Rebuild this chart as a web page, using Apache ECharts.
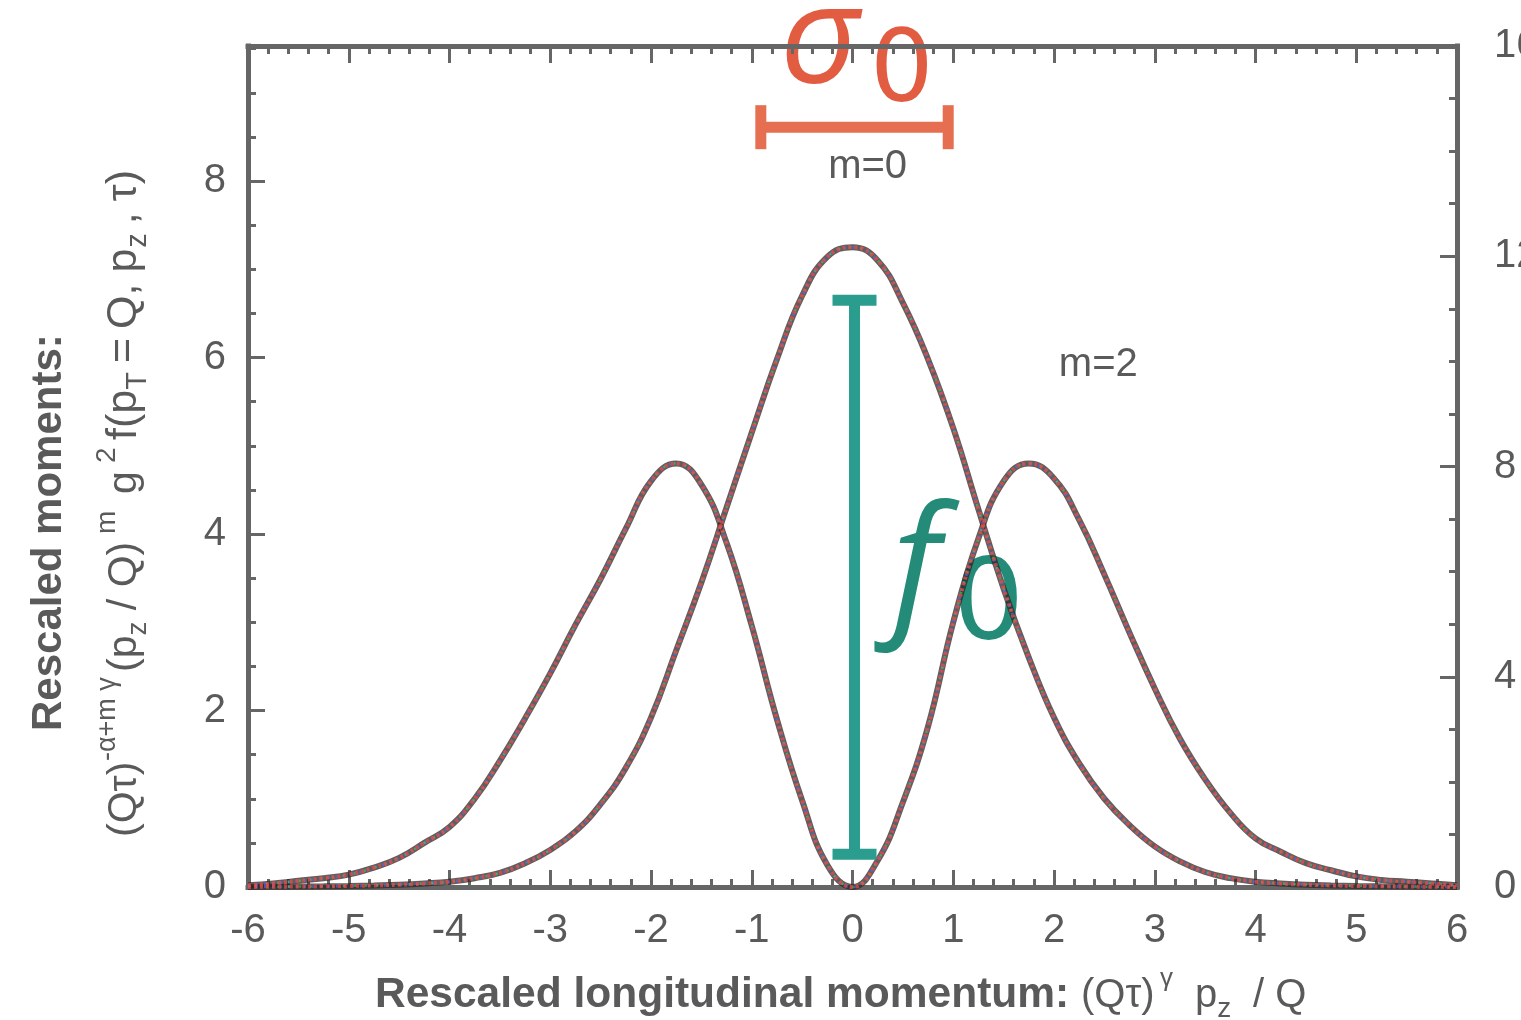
<!DOCTYPE html>
<html><head><meta charset="utf-8">
<script src="https://cdn.jsdelivr.net/npm/echarts@6/dist/echarts.min.js"></script>
<style>html,body{margin:0;padding:0;background:#fff}#c{width:1521px;height:1020px}</style>
</head><body><div id="c"></div>
<script>
// ---- data ----
const xValues = [-6,-5.75,-5.5,-5.25,-5,-4.75,-4.5,-4.25,-4,-3.75,-3.5,-3.25,-3,-2.75,-2.5,-2.25,-2,-1.75,-1.5,-1.25,-1,-0.75,-0.5,-0.25,0,0.25,0.5,0.75,1,1.25,1.5,1.75,2,2.25,2.5,2.75,3,3.25,3.5,3.75,4,4.25,4.5,4.75,5,5.25,5.5,5.75,6];
const m0Values = [0,0.003,0.005,0.008,0.012,0.018,0.026,0.04,0.06,0.1,0.16,0.27,0.42,0.63,0.94,1.35,1.92,2.68,3.45,4.3,5.15,5.98,6.7,7.14,7.25,7.1,6.62,5.98,5.2,4.28,3.38,2.6,1.92,1.4,1.0,0.7,0.46,0.29,0.17,0.1,0.06,0.04,0.026,0.018,0.012,0.008,0.005,0.003,0];
const m2Values = [0.02,0.04,0.07,0.1,0.14,0.22,0.33,0.5,0.68,1.0,1.43,1.91,2.42,2.97,3.49,4.06,4.6,4.8,4.56,3.9,2.96,1.9,0.98,0.25,0,0.3,0.96,1.82,3.0,3.95,4.6,4.8,4.63,4.16,3.54,2.88,2.25,1.68,1.22,0.84,0.55,0.4,0.27,0.19,0.12,0.08,0.06,0.04,0.02];
const leftAxisRange = [0, 9.53];
const rightAxisRange = [0, 16];
const xAxisRange = [-6, 6];
const sigmaBar = {from: -0.91, to: 0.95, y: 8.61};
const fBar = {x: 0.02, from: 0.37, to: 6.65};
const curveLabels = [['m=0', 0.15, 8.16], ['m=2', 2.44, 5.92]];

const FONT = '"Liberation Sans", Arial, Helvetica, sans-serif';
const GRAY = '#5a5a5a';
const AXIS = '#666';

const chart = echarts.init(document.getElementById('c'), null, {renderer: 'canvas'});

// lays out text runs (normal / superscript / subscript) along one baseline
const mctx = document.createElement('canvas').getContext('2d');
function runsGroup(runs, x0, y0, rotation, color, defFamily) {
  let x = 0; const children = [];
  runs.forEach(r => {
    const fam = r.fam || defFamily;
    const f = `${r.it || 'normal'} ${r.w || 'normal'} ${r.s}px ${fam.css}`;
    mctx.font = f;
    const w = mctx.measureText(r.t).width;
    if (r.at !== undefined) x = r.at;
    children.push({
      type: 'text', x: x, y: (r.dy || 0) - fam.k * r.s,
      style: {text: r.t, font: f, fill: r.color || color, textAlign: 'left', textVerticalAlign: 'middle', align: 'left', verticalAlign: 'middle'}
    });
    x += w + (r.gap || 0);
  });
  return {type: 'group', x: x0, y: y0, rotation: rotation, silent: true, children};
}
const LIB = {css: FONT, k: 0.31};
const OPEN = {css: '"Open Sans", "Noto Sans", sans-serif', k: 0.28};
const DEJA = {css: '"DejaVu Sans", sans-serif', k: 0.30};

const xTitle = runsGroup([
  {t: 'Rescaled longitudinal momentum:', w: 'bold', s: 42.5, at: 0},
  {t: '(Qτ)', s: 40, at: 706},
  {t: 'γ', s: 26, dy: -21, at: 785},
  {t: 'p', s: 40, at: 820},
  {t: 'z', s: 28, dy: 10},
  {t: '/ Q', s: 40, at: 878}
], 375, 1008, 0, GRAY, LIB);

const yTitle1 = runsGroup([
  {t: 'Rescaled moments:', w: 'bold', s: 42, at: 0}
], 62, 731, Math.PI / 2, GRAY, LIB);

const yTitle2 = runsGroup([
  {t: '(Qτ)', s: 41, at: 0},
  {t: '-α+m γ', s: 27, dy: -21, at: 76},
  {t: '(p', s: 41, at: 165},
  {t: 'z', s: 28, dy: 10},
  {t: ' / Q)', s: 41},
  {t: 'm', s: 28, dy: -21, at: 303},
  {t: 'g', s: 41, at: 343},
  {t: '2', s: 28, dy: -21, at: 374},
  {t: 'f(p', s: 43, at: 397},
  {t: 'T', s: 29, dy: 10, gap: 9},
  {t: '=', s: 43, gap: 9},
  {t: 'Q,', s: 43, gap: 11},
  {t: 'p', s: 43, gap: 1},
  {t: 'z', s: 29, dy: 10, gap: 9},
  {t: ',', s: 43, gap: 11},
  {t: 'τ)', s: 43}
], 137, 837, Math.PI / 2, GRAY, LIB);

const sigmaText = runsGroup([
  {t: 'σ', it: 'italic', s: 138, at: 0, fam: OPEN},
  {t: '0', s: 100, at: 90, dy: 23, fam: DEJA}
], 780, 82, 0, '#e25c42', OPEN);

const fText = runsGroup([
  {t: 'f', it: 'italic', s: 154, at: 20, fam: OPEN},
  {t: '0', s: 112, at: 81, dy: 28, fam: DEJA}
], 872, 615, 0, '#238b78', OPEN);

const m0Data = xValues.map((x, i) => [x, m0Values[i]]);
const m2Data = xValues.map((x, i) => [x, m2Values[i]]);

function curveSeries(data) {
  const base = {type: 'line', data, showSymbol: false, smooth: 0.45, silent: true};
  return [
    Object.assign({z: 3, lineStyle: {color: 'rgba(40,40,40,0.75)', width: 6}}, base),
    Object.assign({z: 4, lineStyle: {color: 'rgba(80,110,240,0.65)', width: 3, type: [2, 6]}}, base),
    Object.assign({z: 4, lineStyle: {color: 'rgba(70,220,90,0.55)', width: 2.5, type: [2, 9], dashOffset: 4}}, base),
    Object.assign({z: 5, lineStyle: {color: 'rgba(235,75,75,0.75)', width: 4, type: [3, 3]}}, base)
  ];
}

const tickCommon = {inside: true, length: 17, lineStyle: {color: AXIS, width: 3}};
const minorCommon = {show: true, length: 8, lineStyle: {color: AXIS, width: 3}};
const axisLineCommon = {show: true, onZero: false, lineStyle: {color: AXIS, width: 5, cap: 'square'}};
const labelCommon = {color: GRAY, fontFamily: FONT, fontSize: 40};

const option = {
  animation: false,
  backgroundColor: '#fff',
  grid: {left: 248, right: 64, top: 46, bottom: 133, containLabel: false, outerBoundsMode: 'none'},
  xAxis: [
    {type: 'value', min: xAxisRange[0], max: xAxisRange[1], interval: 1, position: 'bottom',
     axisLine: axisLineCommon, axisTick: tickCommon, minorTick: Object.assign({splitNumber: 5}, minorCommon),
     splitLine: {show: false}, axisLabel: Object.assign({margin: 24}, labelCommon)},
    {type: 'value', min: xAxisRange[0], max: xAxisRange[1], interval: 1, position: 'top',
     axisLine: axisLineCommon, axisTick: tickCommon, minorTick: Object.assign({splitNumber: 5}, minorCommon),
     splitLine: {show: false}, axisLabel: {show: false}}
  ],
  yAxis: [
    {type: 'value', min: leftAxisRange[0], max: leftAxisRange[1], interval: 2, position: 'left',
     axisLine: axisLineCommon, axisTick: tickCommon, minorTick: Object.assign({splitNumber: 4}, minorCommon),
     splitLine: {show: false},
     axisLabel: Object.assign({margin: 22, showMaxLabel: false,
       formatter: v => (Math.abs(v - Math.round(v)) < 1e-6 && Math.round(v) % 2 === 0) ? String(Math.round(v)) : ''}, labelCommon)},
    {type: 'value', min: rightAxisRange[0], max: rightAxisRange[1], interval: 4, position: 'right',
     axisLine: axisLineCommon, axisTick: tickCommon, minorTick: Object.assign({splitNumber: 4}, minorCommon),
     splitLine: {show: false}, axisLabel: Object.assign({margin: 37, align: 'left'}, labelCommon)}
  ],
  series: [
    ...curveSeries(m2Data),
    ...curveSeries(m0Data),
    {type: 'custom', z: 6, silent: true, clip: false, data: curveLabels.map(c => [c[1], c[2]]),
     renderItem: (params, api) => {
       const p = api.coord([api.value(0), api.value(1)]);
       return {type: 'text', x: p[0], y: p[1],
         style: {text: curveLabels[params.dataIndex][0], font: `40px ${FONT}`, fill: GRAY,
                 textAlign: 'center', textVerticalAlign: 'middle', align: 'center', verticalAlign: 'middle'}};
     }},
    {type: 'custom', z: 10, silent: true, clip: false, data: [[0, 0]],
     renderItem: (params, api) => {
       const a = api.coord([sigmaBar.from, sigmaBar.y]);
       const b = api.coord([sigmaBar.to, sigmaBar.y]);
       const t = api.coord([fBar.x, fBar.to]);
       const u = api.coord([fBar.x, fBar.from]);
       const o = {stroke: '#e76f51', lineWidth: 11};
       const g = {stroke: '#2a9d8f', lineWidth: 11};
       return {type: 'group', children: [
         {type: 'line', shape: {x1: a[0], y1: a[1], x2: b[0], y2: b[1]}, style: o},
         {type: 'line', shape: {x1: a[0], y1: a[1] - 22, x2: a[0], y2: a[1] + 22}, style: o},
         {type: 'line', shape: {x1: b[0], y1: b[1] - 22, x2: b[0], y2: b[1] + 22}, style: o},
         {type: 'line', shape: {x1: t[0], y1: t[1], x2: u[0], y2: u[1]}, style: g},
         {type: 'line', shape: {x1: t[0] - 22, y1: t[1], x2: t[0] + 22, y2: t[1]}, style: g},
         {type: 'line', shape: {x1: u[0] - 22, y1: u[1], x2: u[0] + 22, y2: u[1]}, style: g}
       ]};
     }}
  ],
  graphic: [xTitle, yTitle1, yTitle2, sigmaText, fText]
};
chart.setOption(option);
</script>
</body></html>
